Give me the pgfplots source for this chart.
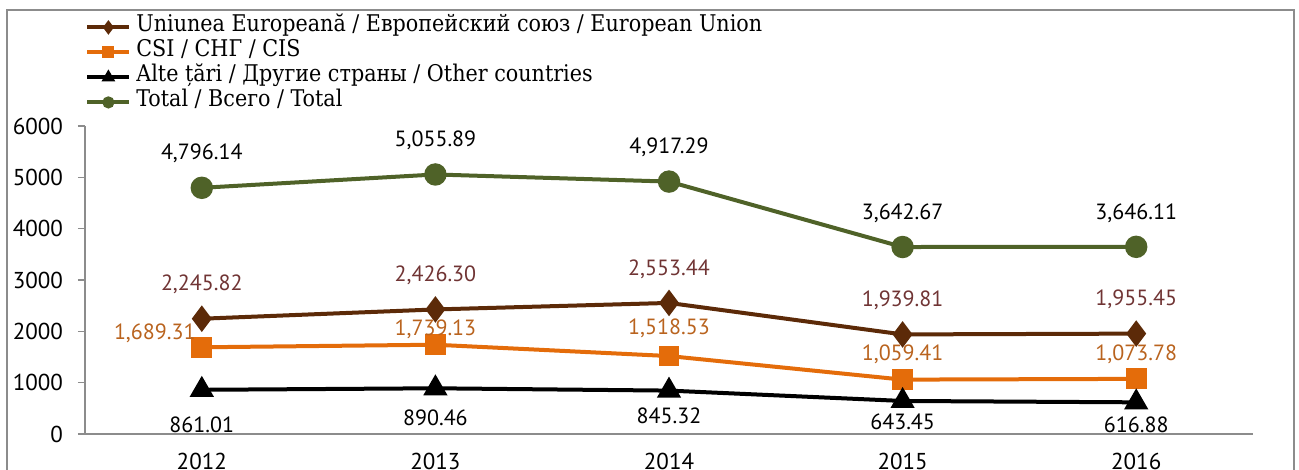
\documentclass[border=0pt]{standalone}
\usepackage{pgfplots}
\pgfplotsset{compat=1.18}
\usepackage{pgfplotstable}
\usepackage{fontspec}
\setmainfont{PT Sans}
\newfontfamily\legfont{DejaVu Serif Condensed}
\definecolor{eu}{HTML}{5C2A08}
\definecolor{eulab}{HTML}{703434}
\definecolor{cis}{HTML}{E46C0A}
\definecolor{cislab}{HTML}{B9631E}
\definecolor{tot}{HTML}{4F6228}
\definecolor{axgray}{HTML}{8C8C8C}

\pgfplotstableread{
x y dx dy lab
0 2245.82 0 17 2,245.82
1 2426.30 0 17 2,426.30
2 2553.44 0 17 2,553.44
3 1939.81 0 17 1,939.81
4 1955.45 0 17 1,955.45
}\eu
\pgfplotstableread{
x y dx dy lab
0 1689.31 -23.5 7 1,689.31
1 1739.13 0 7.5 1,739.13
2 1518.53 0 14 1,518.53
3 1059.41 0 12.5 1,059.41
4 1073.78 0 12.5 1,073.78
}\cis
\pgfplotstableread{
x y dx dy lab
0 861.01 0 -17.5 861.01
1 890.46 0 -15 890.46
2 845.32 0 -12.5 845.32
3 643.45 0 -10.5 643.45
4 616.88 0 -11 616.88
}\oth
\pgfplotstableread{
x y dx dy lab
0 4796.14 0 17 4,796.14
1 5055.89 0 17 5,055.89
2 4917.29 0 17 4,917.29
3 3642.67 0 17 3,642.67
4 3646.11 0 17 3,646.11
}\tot

\begin{document}
\begin{tikzpicture}
\useasboundingbox (0,0) rectangle (649.5pt,235pt);
\draw[axgray, line width=0.8pt] (3.5pt,-10pt) rectangle (647pt,230pt);
\begin{axis}[
  at={(42.5pt,18pt)}, anchor=south west,
  scale only axis, width=584pt, height=154pt,
  xmin=-0.5, xmax=4.5, ymin=0, ymax=6000,
  axis x line=bottom, axis y line=left,
  axis line style={axgray, line width=0.8pt, -},
  xtick={0,1,2,3,4},
  xticklabels={2012,2013,2014,2015,2016},
  x tick style={draw=none},
  extra x ticks={-0.5,0.5,1.5,2.5,3.5,4.5},
  extra x tick labels={},
  extra x tick style={tick style={axgray, line width=0.8pt, draw=axgray}, major tick length=4pt, tick align=outside},
  ytick={0,1000,...,6000},
  y tick style={axgray, line width=0.8pt},
  tick align=outside, major tick length=3.5pt,
  scaled y ticks=false,
  yticklabel={\pgfmathprintnumber[fixed, 1000 sep={}]{\tick}},
  /pgf/number format/assume math mode=true,
  ticklabel style={font=\fontsize{11.5}{13}\selectfont, text=black},
  yticklabel style={xshift=-4pt},
  xticklabel style={yshift=-2.5pt},
  nodes near coords,
  point meta=explicit symbolic,
  visualization depends on={\thisrow{dx} \as \dx},
  visualization depends on={\thisrow{dy} \as \dy},
  every node near coord/.append style={anchor=center, xshift=\dx pt, yshift=\dy pt, font=\fontsize{11}{13}\selectfont},
  legend style={draw=none, fill=none, at={(0.0,1.362)}, anchor=north west, inner sep=0pt,
    font=\legfont\fontsize{11.5}{12.5}\selectfont, row sep=0pt, cells={anchor=west},
    nodes={inner sep=0pt, inner xsep=2.5pt, text height=8.5pt, text depth=4pt}},
  legend image code/.code={\draw[#1, mark repeat=2, mark phase=2] plot coordinates {(0pt,0pt) (10.5pt,0pt) (21pt,0pt)};},
  legend image post style={mark size=2pt},
  clip=false,
]
\addplot[eu, line width=2pt, mark=diamond*, mark size=5pt,
  every node near coord/.append style={text=eulab}]
  table[x=x, y=y, meta=lab] {\eu};
\addlegendentry{Uniunea Europeană / Европейский союз / European Union}
\addplot[cis, line width=2pt, mark=square*, mark size=4.2pt,
  every node near coord/.append style={text=cislab}]
  table[x=x, y=y, meta=lab] {\cis};
\addlegendentry{CSI / СНГ / CIS}
\addplot[black, line width=2pt, mark=triangle*, mark size=5pt,
  every node near coord/.append style={text=black}]
  table[x=x, y=y, meta=lab] {\oth};
\addlegendentry{Alte țări / Другие страны / Other countries}
\addplot[tot, line width=2pt, mark=*, mark size=4.6pt,
  every node near coord/.append style={text=black}]
  table[x=x, y=y, meta=lab] {\tot};
\addlegendentry{Total / Всего / Total}
\end{axis}
\end{tikzpicture}
\end{document}
